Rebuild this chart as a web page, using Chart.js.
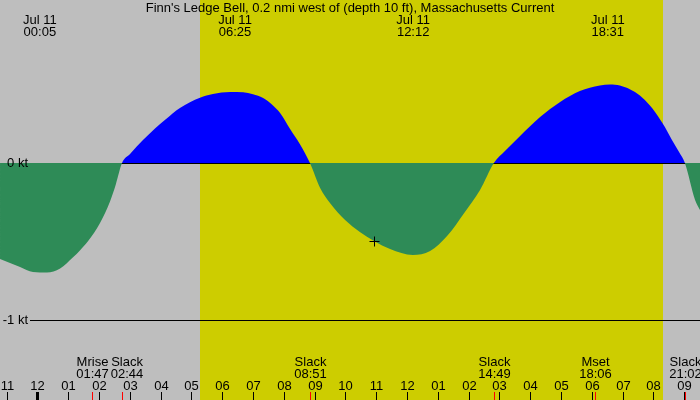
<!DOCTYPE html>
<html lang="en">
  <head>
    <meta charset="UTF-8" />
    <style>
      body {
        margin: 0;
        background-color: #bebebe;
        overflow: hidden;
      }
      canvas {
        display: block;
      }
    </style>
    <title>Finn's Ledge Bell current</title>
  </head>
  <body>
    <canvas id="graph" width="700" height="400"></canvas>

    <script src="https://cdn.jsdelivr.net/npm/chart.js"></script>
    <script>
      // hours since midnight Jul 11, current speed in knots (flood +, ebb -)
      const hours = [
        -1.21, -0.56, -0.14, 0.31, 0.74, 1.16, 1.39, 1.65, 2.04, 2.36, 2.55,
        2.75, 3.01, 3.43, 3.82, 4.15, 4.63, 5.28, 5.70, 6.26, 6.68, 7.00, 7.33,
        7.65, 7.88, 8.20, 8.53, 8.85, 9.18, 9.50, 9.99, 10.47, 10.93, 11.45,
        12.19, 12.75, 13.30, 13.88, 14.37, 14.82, 15.18, 15.67, 16.32, 16.97,
        17.61, 18.26, 18.59, 18.91, 19.40, 19.72, 20.05, 20.37, 20.60, 20.83,
        21.02, 21.35, 21.51,
      ];
      const knots = [
        -0.611, -0.662, -0.694, -0.697, -0.672, -0.6, -0.555, -0.497, -0.38,
        -0.245, -0.135, 0, 0.057, 0.146, 0.22, 0.276, 0.351, 0.416, 0.439,
        0.452, 0.45, 0.438, 0.414, 0.366, 0.318, 0.218, 0.118, 0, -0.159,
        -0.255, -0.363, -0.439, -0.497, -0.548, -0.586, -0.561, -0.465, -0.312,
        -0.172, 0, 0.076, 0.172, 0.293, 0.389, 0.459, 0.494, 0.5, 0.494, 0.452,
        0.401, 0.325, 0.229, 0.146, 0.07, 0, -0.236, -0.3,
      ];

      const title =
        "Finn's Ledge Bell, 0.2 nmi west of (depth 10 ft), Massachusetts Current";

      // max flood / max ebb times shown along the top
      const peakTimes = [0.083, 6.417, 12.2, 18.517];
      const peakDates = ["Jul 11", "Jul 11", "Jul 11", "Jul 11"];
      const peakLabels = ["00:05", "06:25", "12:12", "18:31"];

      // events along the bottom
      const eventTimes = [1.783, 2.733, 8.85, 14.817, 18.1, 21.033];
      const eventNames = ["Mrise", "Slack", "Slack", "Slack", "Mset", "Slack"];
      const eventLabels = ["01:47", "02:44", "08:51", "14:49", "18:06", "21:02"];

      // hour ticks
      const hourTicks = [
        -1, 0, 1, 2, 3, 4, 5, 6, 7, 8, 9, 10, 11, 12, 13, 14, 15, 16, 17, 18,
        19, 20, 21,
      ];
      const hourLabels = [
        "11", "12", "01", "02", "03", "04", "05", "06", "07", "08", "09", "10",
        "11", "12", "01", "02", "03", "04", "05", "06", "07", "08", "09",
      ];

      // depth lines
      const levelValues = [0, -1];
      const levelLabels = ["0 kt", "-1 kt"];

      // sunrise / sunset
      const sunrise = 5.28;
      const sunset = 20.31;

      // "now" marker
      const nowTime = 10.94;
      const nowValue = -0.5;

      const FONT = "13px 'Liberation Sans', Arial, sans-serif";

      const backdrop = {
        id: "backdrop",
        beforeDraw(chart) {
          const { ctx, chartArea: a } = chart;
          const x = chart.scales.x;
          ctx.save();
          ctx.fillStyle = "#bebebe";
          ctx.fillRect(0, 0, chart.width, chart.height);
          ctx.fillStyle = "#cdcd00";
          const x0 = Math.round(x.getPixelForValue(sunrise));
          const x1 = Math.round(x.getPixelForValue(sunset));
          ctx.fillRect(x0, a.top, x1 - x0, a.bottom - a.top);
          ctx.restore();
        },
        beforeDatasetsDraw(chart) {
          const { ctx } = chart;
          const y = Math.round(chart.scales.y.getPixelForValue(0)) + 0.5;
          ctx.save();
          ctx.strokeStyle = "#000";
          ctx.lineWidth = 1;
          ctx.beginPath();
          ctx.moveTo(30, y);
          ctx.lineTo(chart.width, y);
          ctx.stroke();
          ctx.restore();
        },
        afterDatasetsDraw(chart) {
          const { ctx } = chart;
          const xs = chart.scales.x;
          const ys = chart.scales.y;
          const W = chart.width;
          const H = chart.height;
          ctx.save();
          ctx.font = FONT;
          ctx.fillStyle = "#000";
          ctx.strokeStyle = "#000";
          ctx.lineWidth = 1;

          // depth lines + labels
          levelValues.forEach((v, i) => {
            const y = Math.round(ys.getPixelForValue(v)) + 0.5;
            if (v !== 0) {
              ctx.beginPath();
              ctx.moveTo(30, y);
              ctx.lineTo(W, y);
              ctx.stroke();
            }
            ctx.textAlign = "right";
            ctx.textBaseline = "middle";
            ctx.fillText(levelLabels[i], 28, y);
          });

          // hour ticks
          hourTicks.forEach((h, i) => {
            const x = Math.round(xs.getPixelForValue(h));
            if (h === 0) {
              ctx.fillRect(x - 1, H - 8, 3, 8);
            } else {
              ctx.fillRect(x, H - 8, 1, 8);
            }
            ctx.textAlign = "center";
            ctx.textBaseline = "middle";
            ctx.fillText(hourLabels[i], x + 0.5, H - 14);
          });

          // event ticks + labels, pushed right when they would overlap
          let prevRight = -Infinity;
          eventTimes.forEach((t, i) => {
            const x = Math.round(xs.getPixelForValue(t));
            ctx.fillStyle = "#ff0000";
            ctx.fillRect(x, H - 8, 1, 8);
            ctx.fillStyle = "#000";
            const w = Math.max(
              ctx.measureText(eventNames[i]).width,
              ctx.measureText(eventLabels[i]).width
            );
            let cx = x + 0.5;
            if (cx - w / 2 < prevRight + 2) cx = prevRight + 2 + w / 2;
            prevRight = cx + w / 2;
            ctx.textAlign = "center";
            ctx.textBaseline = "middle";
            ctx.fillText(eventNames[i], cx, H - 38);
            ctx.fillText(eventLabels[i], cx, H - 26);
          });

          // peaks along the top
          peakTimes.forEach((t, i) => {
            const x = xs.getPixelForValue(t);
            ctx.textAlign = "center";
            ctx.textBaseline = "middle";
            ctx.fillText(peakDates[i], x, 20);
            ctx.fillText(peakLabels[i], x, 32);
          });

          // title
          ctx.textAlign = "center";
          ctx.textBaseline = "middle";
          ctx.fillText(title, W / 2, 8);

          // now marker
          const nx = Math.round(xs.getPixelForValue(nowTime)) + 0.5;
          const ny = Math.round(ys.getPixelForValue(nowValue)) + 0.5;
          ctx.beginPath();
          ctx.moveTo(nx - 5, ny);
          ctx.lineTo(nx + 5, ny);
          ctx.moveTo(nx, ny - 5);
          ctx.lineTo(nx, ny + 5);
          ctx.stroke();

          ctx.restore();
        },
      };

      new Chart(document.querySelector("#graph").getContext("2d"), {
        type: "line",
        data: {
          datasets: [
            {
              data: hours.map((h, i) => ({ x: h, y: knots[i] })),
              borderWidth: 0,
              borderColor: "rgba(0,0,0,0)",
              pointRadius: 0,
              cubicInterpolationMode: "monotone",
              fill: {
                target: "origin",
                above: "#0000ff",
                below: "#2e8b57",
              },
            },
          ],
        },
        options: {
          responsive: false,
          animation: false,
          events: [],
          layout: { padding: 0 },
          plugins: {
            legend: { display: false },
            tooltip: { enabled: false },
          },
          scales: {
            x: {
              type: "linear",
              display: false,
              min: -1.211,
              max: 21.51,
            },
            y: {
              display: false,
              min: -1.5096,
              max: 1.0382,
            },
          },
        },
        plugins: [backdrop],
      });
    </script>
  </body>
</html>
